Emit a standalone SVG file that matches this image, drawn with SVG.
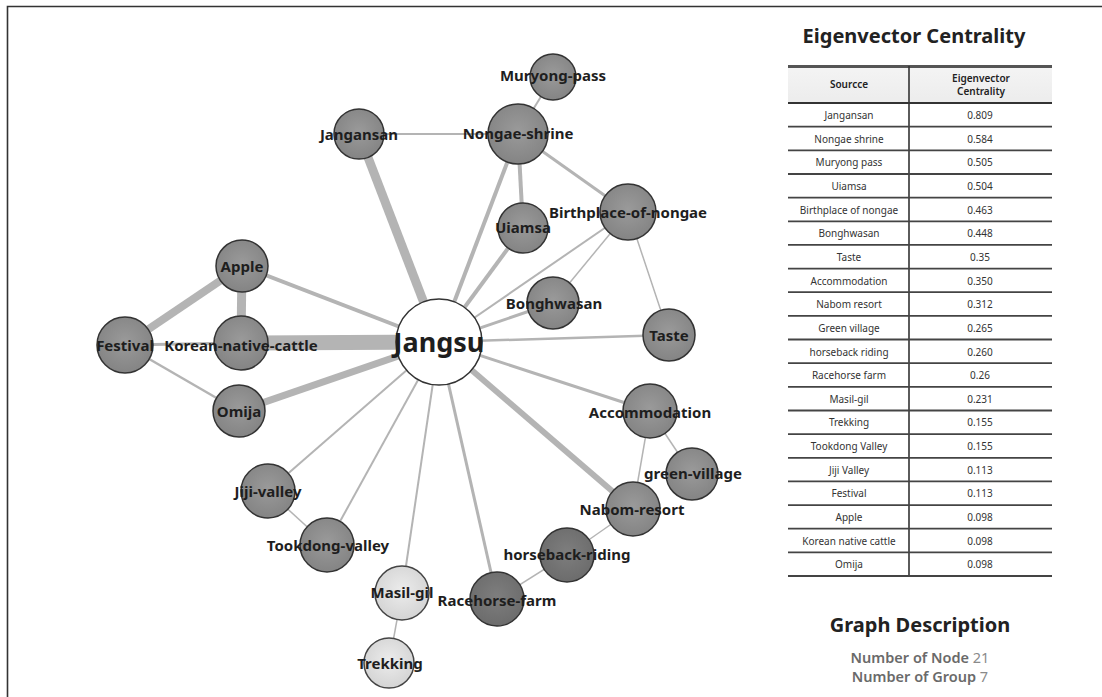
<svg xmlns="http://www.w3.org/2000/svg" width="1102" height="697" viewBox="0 0 1102 697">
<style>
.lbl{font-family:"Noto Sans","Open Sans",sans-serif;font-weight:700;font-size:15px;fill:#1e1e1e;text-anchor:middle;dominant-baseline:central}
.big{font-size:27px}
.nd{fill:url(#gGray);stroke:#333;stroke-width:1.5}
.dk{fill:url(#gDark);stroke:#333;stroke-width:1.5}
.lt{fill:url(#gLight);stroke:#444;stroke-width:1.5}
.wh{fill:#fff;stroke:#333;stroke-width:1.5}
.e{stroke:#b4b4b4;fill:none}
.td{font-family:"Noto Sans","Open Sans",sans-serif;font-size:10px;fill:#333;text-anchor:middle}
.th{font-family:"Noto Sans","Open Sans",sans-serif;font-size:10px;font-weight:600;fill:#222;text-anchor:middle}
.rl{stroke:#444;stroke-width:1.8}
.title{font-family:"Noto Sans","Open Sans",sans-serif;font-weight:700;font-size:20px;fill:#222;text-anchor:middle}
.desc{font-family:"Noto Sans","Open Sans",sans-serif;font-weight:600;font-size:14.5px;fill:#6a6a6a;text-anchor:middle}
</style>
<defs>
<radialGradient id="gGray" cx="0.5" cy="0.45" r="0.55"><stop offset="0" stop-color="#9a9a9a"/><stop offset="1" stop-color="#848484"/></radialGradient>
<radialGradient id="gDark" cx="0.5" cy="0.45" r="0.55"><stop offset="0" stop-color="#7e7e7e"/><stop offset="1" stop-color="#6c6c6c"/></radialGradient>
<radialGradient id="gLight" cx="0.5" cy="0.45" r="0.55"><stop offset="0" stop-color="#ececec"/><stop offset="1" stop-color="#d4d4d4"/></radialGradient>
<linearGradient id="hdr" x1="0" y1="0" x2="0" y2="1"><stop offset="0" stop-color="#f4f4f4"/><stop offset="1" stop-color="#ececec"/></linearGradient>
</defs>
<rect width="1102" height="697" fill="#fff"/>
<path d="M7.5 697 V6.5 H1102" fill="none" stroke="#333" stroke-width="1.6"/>

<g id="connectors">
<line class="e" x1="439" y1="342" x2="359" y2="134" stroke-width="9" stroke="#a9a9a9"/>
<line class="e" x1="439" y1="342" x2="241" y2="343" stroke-width="15" stroke="#b9b9b9"/>
<line class="e" x1="439" y1="342" x2="239" y2="411" stroke-width="7" stroke="#b4b4b4"/>
<line class="e" x1="439" y1="342" x2="242" y2="266" stroke-width="4" stroke="#b4b4b4"/>
<line class="e" x1="242" y1="266" x2="125" y2="345" stroke-width="8" stroke="#b0b0b0"/>
<line class="e" x1="242" y1="266" x2="241" y2="343" stroke-width="9" stroke="#a9a9a9"/>
<line class="e" x1="125" y1="345" x2="241" y2="343" stroke-width="3" stroke="#b4b4b4"/>
<line class="e" x1="125" y1="345" x2="239" y2="411" stroke-width="2.5" stroke="#b4b4b4"/>
<line class="e" x1="439" y1="342" x2="518" y2="134" stroke-width="4" stroke="#b0b0b0"/>
<line class="e" x1="439" y1="342" x2="523" y2="228" stroke-width="4" stroke="#a8a8a8"/>
<line class="e" x1="439" y1="342" x2="628" y2="212" stroke-width="2" stroke="#c4c4c4"/>
<line class="e" x1="439" y1="342" x2="553" y2="303" stroke-width="3" stroke="#b4b4b4"/>
<line class="e" x1="439" y1="342" x2="669" y2="335" stroke-width="2.5" stroke="#b8b8b8"/>
<line class="e" x1="439" y1="342" x2="650" y2="411" stroke-width="3" stroke="#b4b4b4"/>
<line class="e" x1="439" y1="342" x2="633" y2="509" stroke-width="6" stroke="#aaaaaa"/>
<line class="e" x1="439" y1="342" x2="497" y2="599" stroke-width="3" stroke="#9c9c9c"/>
<line class="e" x1="439" y1="342" x2="402" y2="593" stroke-width="2" stroke="#d6d6d6"/>
<line class="e" x1="439" y1="342" x2="327" y2="545" stroke-width="2" stroke="#bebebe"/>
<line class="e" x1="439" y1="342" x2="268" y2="491" stroke-width="2" stroke="#bebebe"/>
<line class="e" x1="359" y1="134" x2="518" y2="134" stroke-width="2" stroke="#454545"/>
<line class="e" x1="518" y1="134" x2="553" y2="77" stroke-width="2" stroke="#9a9a9a"/>
<line class="e" x1="518" y1="134" x2="523" y2="228" stroke-width="4" stroke="#5e5e5e"/>
<line class="e" x1="518" y1="134" x2="628" y2="212" stroke-width="3" stroke="#555"/>
<line class="e" x1="628" y1="212" x2="553" y2="303" stroke-width="1.5" stroke="#bdbdbd"/>
<line class="e" x1="628" y1="212" x2="669" y2="335" stroke-width="1.5" stroke="#acacac"/>
<line class="e" x1="650" y1="411" x2="633" y2="509" stroke-width="1.5" stroke="#bdbdbd"/>
<line class="e" x1="650" y1="411" x2="692" y2="474" stroke-width="1.5" stroke="#bdbdbd"/>
<line class="e" x1="633" y1="509" x2="567" y2="555" stroke-width="1.5" stroke="#bdbdbd"/>
<line class="e" x1="567" y1="555" x2="497" y2="599" stroke-width="1.5" stroke="#acacac"/>
<line class="e" x1="402" y1="593" x2="389" y2="663" stroke-width="1.5" stroke="#cfcfcf"/>
<line class="e" x1="268" y1="491" x2="327" y2="545" stroke-width="1.5" stroke="#bdbdbd"/>
</g>

<g id="n-jangansan"><circle class="nd" cx="359" cy="134" r="25"/><text class="lbl" x="359" y="134">Jangansan</text></g>
<g id="n-muryong"><circle class="nd" cx="553" cy="77" r="23"/><text class="lbl" x="553" y="75">Muryong-pass</text></g>
<g id="n-nongae"><circle class="nd" cx="518" cy="134" r="30"/><text class="lbl" x="518" y="133">Nongae-shrine</text></g>
<g id="n-uiamsa"><circle class="nd" cx="523" cy="228" r="25"/><text class="lbl" x="523" y="227">Uiamsa</text></g>
<g id="n-birthplace"><circle class="nd" cx="628" cy="212" r="28"/><text class="lbl" x="628" y="212">Birthplace-of-nongae</text></g>
<g id="n-bonghwasan"><circle class="nd" cx="553" cy="303" r="26"/><text class="lbl" x="554" y="303">Bonghwasan</text></g>
<g id="n-taste"><circle class="nd" cx="669" cy="335" r="26"/><text class="lbl" x="669" y="335">Taste</text></g>
<g id="n-apple"><circle class="nd" cx="242" cy="266" r="26"/><text class="lbl" x="242" y="266">Apple</text></g>
<g id="n-festival"><circle class="nd" cx="125" cy="345" r="28"/><text class="lbl" x="125" y="345">Festival</text></g>
<g id="n-cattle"><circle class="nd" cx="241" cy="343" r="27"/><text class="lbl" x="241" y="345">Korean-native-cattle</text></g>
<g id="n-omija"><circle class="nd" cx="239" cy="411" r="26"/><text class="lbl" x="239" y="411">Omija</text></g>
<g id="n-accommodation"><circle class="nd" cx="650" cy="411" r="27"/><text class="lbl" x="650" y="412">Accommodation</text></g>
<g id="n-greenvillage"><circle class="nd" cx="692" cy="474" r="26"/><text class="lbl" x="693" y="473">green-village</text></g>
<g id="n-nabom"><circle class="nd" cx="633" cy="509" r="27"/><text class="lbl" x="632" y="509">Nabom-resort</text></g>
<g id="n-horseback"><circle class="dk" cx="567" cy="555" r="27"/><text class="lbl" x="567" y="554">horseback-riding</text></g>
<g id="n-racehorse"><circle class="dk" cx="497" cy="599" r="27"/><text class="lbl" x="497" y="600">Racehorse-farm</text></g>
<g id="n-masilgil"><circle class="lt" cx="402" cy="593" r="27"/><text class="lbl" x="402" y="592">Masil-gil</text></g>
<g id="n-trekking"><circle class="lt" cx="389" cy="663" r="25"/><text class="lbl" x="390" y="663">Trekking</text></g>
<g id="n-jiji"><circle class="nd" cx="268" cy="491" r="27"/><text class="lbl" x="268" y="491">Jiji-valley</text></g>
<g id="n-tookdong"><circle class="nd" cx="327" cy="545" r="27"/><text class="lbl" x="328" y="545">Tookdong-valley</text></g>
<g id="n-jangsu"><circle class="wh" cx="439" cy="342" r="43"/><text class="lbl big" x="439" y="341">Jangsu</text></g>

<g id="table">
<text class="title" x="914" y="43">Eigenvector Centrality</text>
<rect x="788" y="66" width="264" height="37" fill="url(#hdr)"/>
<line x1="788" y1="66.5" x2="1052" y2="66.5" stroke="#555" stroke-width="3"/>
<line x1="788" y1="103" x2="1052" y2="103" stroke="#333" stroke-width="2"/>
<line x1="909" y1="66" x2="909" y2="576" stroke="#333" stroke-width="1.6"/>
<text class="th" x="849" y="88">Sourcce</text>
<text class="th" x="981" y="82">Eigenvector</text>
<text class="th" x="981" y="95">Centrality</text>
<g class="rl">
<line x1="788" y1="126.7" x2="1052" y2="126.7"/>
<line x1="788" y1="150.3" x2="1052" y2="150.3"/>
<line x1="788" y1="174" x2="1052" y2="174"/>
<line x1="788" y1="197.6" x2="1052" y2="197.6"/>
<line x1="788" y1="221.3" x2="1052" y2="221.3"/>
<line x1="788" y1="244.9" x2="1052" y2="244.9"/>
<line x1="788" y1="268.6" x2="1052" y2="268.6"/>
<line x1="788" y1="292.2" x2="1052" y2="292.2"/>
<line x1="788" y1="315.9" x2="1052" y2="315.9"/>
<line x1="788" y1="339.5" x2="1052" y2="339.5"/>
<line x1="788" y1="363.2" x2="1052" y2="363.2"/>
<line x1="788" y1="386.8" x2="1052" y2="386.8"/>
<line x1="788" y1="410.5" x2="1052" y2="410.5"/>
<line x1="788" y1="434.1" x2="1052" y2="434.1"/>
<line x1="788" y1="457.8" x2="1052" y2="457.8"/>
<line x1="788" y1="481.4" x2="1052" y2="481.4"/>
<line x1="788" y1="505.1" x2="1052" y2="505.1"/>
<line x1="788" y1="528.7" x2="1052" y2="528.7"/>
<line x1="788" y1="552.4" x2="1052" y2="552.4"/>
<line x1="788" y1="576" x2="1052" y2="576"/>
</g>
<text class="td" x="849" y="119">Jangansan</text><text class="td" x="980" y="119">0.809</text>
<text class="td" x="849" y="142.6">Nongae shrine</text><text class="td" x="980" y="142.6">0.584</text>
<text class="td" x="849" y="166.3">Muryong pass</text><text class="td" x="980" y="166.3">0.505</text>
<text class="td" x="849" y="189.9">Uiamsa</text><text class="td" x="980" y="189.9">0.504</text>
<text class="td" x="849" y="213.6">Birthplace of nongae</text><text class="td" x="980" y="213.6">0.463</text>
<text class="td" x="849" y="237.2">Bonghwasan</text><text class="td" x="980" y="237.2">0.448</text>
<text class="td" x="849" y="260.9">Taste</text><text class="td" x="980" y="260.9">0.35</text>
<text class="td" x="849" y="284.5">Accommodation</text><text class="td" x="980" y="284.5">0.350</text>
<text class="td" x="849" y="308.2">Nabom resort</text><text class="td" x="980" y="308.2">0.312</text>
<text class="td" x="849" y="331.8">Green village</text><text class="td" x="980" y="331.8">0.265</text>
<text class="td" x="849" y="355.5">horseback riding</text><text class="td" x="980" y="355.5">0.260</text>
<text class="td" x="849" y="379.1">Racehorse farm</text><text class="td" x="980" y="379.1">0.26</text>
<text class="td" x="849" y="402.8">Masil-gil</text><text class="td" x="980" y="402.8">0.231</text>
<text class="td" x="849" y="426.4">Trekking</text><text class="td" x="980" y="426.4">0.155</text>
<text class="td" x="849" y="450.1">Tookdong Valley</text><text class="td" x="980" y="450.1">0.155</text>
<text class="td" x="849" y="473.7">Jiji Valley</text><text class="td" x="980" y="473.7">0.113</text>
<text class="td" x="849" y="497.4">Festival</text><text class="td" x="980" y="497.4">0.113</text>
<text class="td" x="849" y="521">Apple</text><text class="td" x="980" y="521">0.098</text>
<text class="td" x="849" y="544.7">Korean native cattle</text><text class="td" x="980" y="544.7">0.098</text>
<text class="td" x="849" y="568.3">Omija</text><text class="td" x="980" y="568.3">0.098</text>
</g>

<g id="description">
<text class="title" x="920" y="632">Graph Description</text>
<text class="desc" x="920" y="663">Number of Node <tspan fill="#8a8a8a" font-weight="400">21</tspan></text>
<text class="desc" x="920" y="682">Number of Group <tspan fill="#8a8a8a" font-weight="400">7</tspan></text>
</g>
</svg>
